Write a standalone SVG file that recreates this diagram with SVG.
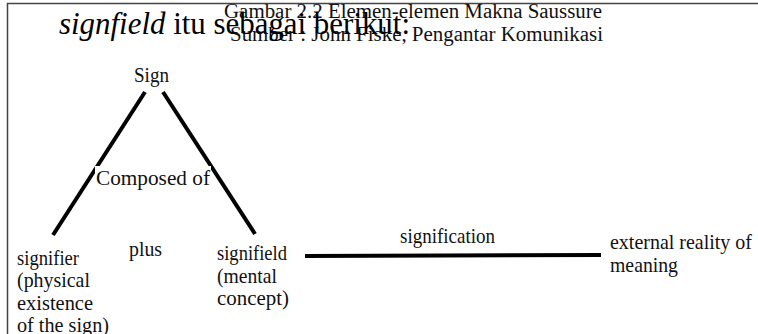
<svg xmlns="http://www.w3.org/2000/svg" width="758" height="334" viewBox="0 0 758 334">
<style>
.t{font-family:'Liberation Serif','Times New Roman',serif;font-size:21px;fill:#111}
.h{font-family:'Liberation Serif','Times New Roman',serif;font-size:20px;fill:#111}
.c{stroke:#000;stroke-width:4;fill:none;stroke-linecap:butt}
</style>
<rect width="758" height="334" fill="#fff"/>
<path d="M7.5,334 V3.5 H758" fill="none" stroke="#444" stroke-width="1.5"/>
<g id="header">
<text class="h" x="224" y="18" textLength="378" lengthAdjust="spacingAndGlyphs">Gambar 2.2 Elemen-elemen Makna Saussure</text>
<text class="h" x="230" y="41" textLength="373" lengthAdjust="spacingAndGlyphs">Sumber : John Fiske, Pengantar Komunikasi</text>
<text x="59" y="34" font-family="'Liberation Serif', 'Times New Roman', serif" font-size="31" fill="#000" textLength="351" lengthAdjust="spacingAndGlyphs"><tspan font-style="italic">signfield</tspan> itu sebagai berikut:</text>
</g>
<g id="connectors">
<line class="c" x1="145" y1="92" x2="53" y2="235"/>
<line class="c" x1="163" y1="92" x2="255" y2="234"/>
<line class="c" x1="305" y1="256" x2="601" y2="255"/>
</g>
<g id="sign">
<text class="t" x="134" y="82" textLength="35" lengthAdjust="spacingAndGlyphs">Sign</text>
</g>
<g id="composed">
<rect x="95" y="166" width="116" height="24" fill="#fff"/>
<text class="t" x="96" y="185" textLength="114" lengthAdjust="spacingAndGlyphs">Composed of</text>
</g>
<g id="signifier">
<text class="t" x="17" y="265" textLength="62" lengthAdjust="spacingAndGlyphs">signifier</text>
<text class="t" x="17" y="287" textLength="73" lengthAdjust="spacingAndGlyphs">(physical</text>
<text class="t" x="17" y="310" textLength="76" lengthAdjust="spacingAndGlyphs">existence</text>
<text class="t" x="17" y="332" textLength="92" lengthAdjust="spacingAndGlyphs">of the sign)</text>
</g>
<g id="plus">
<text class="t" x="129" y="256" textLength="33" lengthAdjust="spacingAndGlyphs">plus</text>
</g>
<g id="signifield">
<text class="t" x="217" y="260" textLength="70" lengthAdjust="spacingAndGlyphs">signifield</text>
<text class="t" x="217" y="283" textLength="60" lengthAdjust="spacingAndGlyphs">(mental</text>
<text class="t" x="217" y="305" textLength="72" lengthAdjust="spacingAndGlyphs">concept)</text>
</g>
<g id="signification">
<text class="t" x="400" y="243" textLength="95" lengthAdjust="spacingAndGlyphs">signification</text>
</g>
<g id="external">
<text class="t" x="610" y="249" textLength="142" lengthAdjust="spacingAndGlyphs">external reality of</text>
<text class="t" x="610" y="272" textLength="68" lengthAdjust="spacingAndGlyphs">meaning</text>
</g>
</svg>
